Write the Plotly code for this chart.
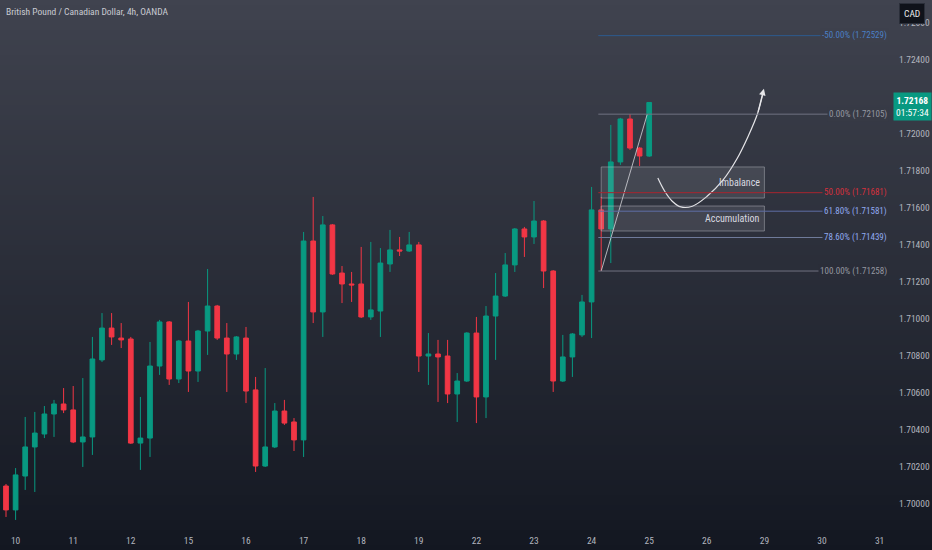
import plotly.graph_objects as go

# =========================================================================================================================
# Data (GBP/CAD 4h candles)
opens = [1.70097, 1.69968, 1.70151, 1.70308, 1.70378, 1.70486, 1.70540, 1.70508, 1.70335, 1.70362,
         1.70778, 1.70950, 1.70896, 1.70891, 1.70329, 1.70356, 1.70745, 1.70983, 1.70675, 1.70880,
         1.70718, 1.70934, 1.71069, 1.70896, 1.70810, 1.70896, 1.70616, 1.70205, 1.70308, 1.70502,
         1.70443, 1.70346, 1.71420, 1.71037, 1.71507, 1.71247, 1.71188, 1.71188, 1.71010, 1.71042,
         1.71296, 1.71372, 1.71366, 1.71399, 1.70799, 1.70810, 1.70799, 1.70594, 1.70664, 1.70923,
         1.70578, 1.71015, 1.71123, 1.71291, 1.71485, 1.71442, 1.71528, 1.71258, 1.70664, 1.70794,
         1.70913, 1.71091, 1.71588, 1.71485, 1.71847, 1.72079, 1.71922, 1.71879]
highs = [1.70108, 1.70194, 1.70470, 1.70497, 1.70529, 1.70562, 1.70626, 1.70637, 1.70680, 1.70902,
         1.71031, 1.71031, 1.70977, 1.70902, 1.70578, 1.70875, 1.70994, 1.70988, 1.70886, 1.71091,
         1.70940, 1.71269, 1.71075, 1.70977, 1.70907, 1.70956, 1.70686, 1.70734, 1.70545, 1.70562,
         1.70464, 1.71469, 1.71658, 1.71555, 1.71512, 1.71285, 1.71253, 1.71388, 1.71415, 1.71382,
         1.71480, 1.71442, 1.71469, 1.71415, 1.70923, 1.70886, 1.70886, 1.70707, 1.70928, 1.71010,
         1.71069, 1.71247, 1.71355, 1.71490, 1.71496, 1.71636, 1.71533, 1.71263, 1.70913, 1.70923,
         1.71129, 1.71712, 1.71658, 1.72047, 1.72085, 1.72105, 1.71927, 1.72168]
lows = [1.69930, 1.69914, 1.70076, 1.70065, 1.70356, 1.70362, 1.70491, 1.70329, 1.70200, 1.70265,
        1.70767, 1.70859, 1.70842, 1.70324, 1.70184, 1.70254, 1.70697, 1.70643, 1.70653, 1.70605,
        1.70659, 1.70805, 1.70886, 1.70605, 1.70778, 1.70545, 1.70173, 1.70200, 1.70302, 1.70427,
        1.70286, 1.70254, 1.70977, 1.70902, 1.71237, 1.71085, 1.71091, 1.71004, 1.70994, 1.70902,
        1.71253, 1.71339, 1.71361, 1.70713, 1.70643, 1.70551, 1.70545, 1.70443, 1.70659, 1.70437,
        1.70464, 1.70778, 1.71118, 1.71253, 1.71334, 1.71404, 1.71166, 1.70605, 1.70659, 1.70686,
        1.70902, 1.70896, 1.71258, 1.71301, 1.71831, 1.71912, 1.71825, 1.71874]
closes = [1.69968, 1.70157, 1.70308, 1.70383, 1.70486, 1.70540, 1.70508, 1.70335, 1.70362, 1.70783,
          1.70950, 1.70902, 1.70886, 1.70329, 1.70356, 1.70745, 1.70983, 1.70675, 1.70880, 1.70718,
          1.70934, 1.71069, 1.70896, 1.70810, 1.70902, 1.70610, 1.70205, 1.70308, 1.70502, 1.70437,
          1.70346, 1.71420, 1.71037, 1.71507, 1.71242, 1.71188, 1.71183, 1.71010, 1.71048, 1.71301,
          1.71372, 1.71366, 1.71399, 1.70799, 1.70810, 1.70794, 1.70594, 1.70664, 1.70923, 1.70578,
          1.71015, 1.71123, 1.71291, 1.71485, 1.71442, 1.71528, 1.71258, 1.70664, 1.70794, 1.70918,
          1.71091, 1.71588, 1.71485, 1.71847, 1.72079, 1.71922, 1.71879, 1.72168]
bars = list(range(len(opens)))

# day labels (one per 6 bars of 4h)
day_labels = ['10', '11', '12', '15', '16', '17', '18', '19', '22', '23', '24', '25', '26', '29', '30', '31']
day_bars = [1 + 6 * k for k in range(len(day_labels))]

price_ticks = [1.70000, 1.70200, 1.70400, 1.70600, 1.70800, 1.71000, 1.71200, 1.71400,
               1.71600, 1.71800, 1.72000, 1.72200, 1.72400, 1.72600]
last_price = 1.72168
countdown = '01:57:34'

# fibonacci retracement
fib_pct = ['-50.00%', '0.00%', '50.00%', '61.80%', '78.60%', '100.00%']
fib_price = [1.72529, 1.72105, 1.71681, 1.71581, 1.71439, 1.71258]
fib_line_col = ['#2d5a8e', '#707380', '#a8252f', '#5f6ea6', '#6f7a9a', '#707380']
fib_text_col = ['#4a7fc4', '#9598a1', '#d6303d', '#90aaf0', '#90aaf0', '#9598a1']
fib_start = 61.7
fib_trend_x = [62, 66.8]
fib_trend_y = [1.71258, 1.72105]

# zones
zone_names = ['Imbalance', 'Accumulation']
zone_top = [1.71820, 1.71609]
zone_bot = [1.71652, 1.71474]
zone_x = [62, 79]

# hand-drawn projection arrow
arrow_x = [67.9, 68.6, 69.4, 70.3, 71.5, 73.0, 74.7, 76.1, 77.3, 78.3, 78.9]
arrow_y = [1.71760, 1.71690, 1.71635, 1.71604, 1.71608, 1.71660, 1.71750, 1.71860, 1.71985, 1.72110, 1.72230]

# =========================================================================================================================
# Style
G = '#089981'
R = '#f23645'
W, H = 932, 550
ML, MR, MT, MB = 0, 44, 0, 22
PW, PH = W - ML - MR, H - MT - MB
x_rng = [-0.625, 91.875]
y_rng = [1.698704, 1.727214]
TOP = (64, 67, 79)
BOT = (19, 23, 33)
FONT = 'Liberation Sans Narrow, Roboto Condensed, DejaVu Sans Condensed, Roboto, sans-serif'


def bg_at(py):
    t = min(max(py / H, 0), 1)
    c = [round(a + (b - a) * t) for a, b in zip(TOP, BOT)]
    return 'rgb({},{},{})'.format(*c)


def price_px(p):
    return MT + (y_rng[1] - p) / (y_rng[1] - y_rng[0]) * PH


fig = go.Figure()

fig.add_trace(go.Candlestick(
    x=bars, open=opens, high=highs, low=lows, close=closes,
    increasing=dict(line=dict(color=G, width=1), fillcolor=G),
    decreasing=dict(line=dict(color=R, width=1), fillcolor=R),
    whiskerwidth=0, hoverinfo='skip', showlegend=False))

# fib trend line
fig.add_trace(go.Scatter(x=fib_trend_x, y=fib_trend_y, mode='lines',
                         line=dict(color='rgba(225,225,230,0.75)', width=1),
                         hoverinfo='skip', showlegend=False))

# projection arrow
fig.add_trace(go.Scatter(x=arrow_x, y=arrow_y, mode='lines',
                         line=dict(color='#e6e6e9', width=1.2, shape='spline'),
                         hoverinfo='skip', showlegend=False))

shapes = []
# gradient background
n = 110
step = H / n
for i in range(n):
    py0 = i * step
    py1 = (i + 1) * step + 0.6
    shapes.append(dict(type='rect', xref='paper', yref='paper', layer='below',
                       x0=-0.01, x1=(W + 5) / PW,
                       y0=(PH + MT - py1) / PH, y1=(PH + MT - py0) / PH,
                       fillcolor=bg_at((py0 + py1) / 2), line=dict(width=0)))

# zones
for top, bot in zip(zone_top, zone_bot):
    shapes.append(dict(type='rect', xref='x', yref='y', x0=zone_x[0], x1=zone_x[1], y0=bot, y1=top,
                       fillcolor='rgba(200,202,212,0.13)', line=dict(color='rgba(190,192,200,0.45)', width=1)))

# fib lines
for p, c in zip(fib_price, fib_line_col):
    shapes.append(dict(type='line', xref='x', yref='y', x0=fib_start, x1=x_rng[1], y0=p, y1=p,
                       line=dict(color=c, width=1)))

annotations = []
for pct, p, c in zip(fib_pct, fib_price, fib_text_col):
    annotations.append(dict(xref='paper', yref='y', x=(PW + 1) / PW, y=p, xanchor='right', yanchor='middle',
                            text='{} ({:.5f})'.format(pct, p), showarrow=False,
                            bgcolor=bg_at(price_px(p)), borderpad=1,
                            font=dict(family=FONT, size=9, color=c)))

for name, top, bot in zip(zone_names, zone_top, zone_bot):
    annotations.append(dict(xref='x', yref='y', x=zone_x[1] - 0.2, y=(top + bot) / 2, xanchor='right',
                            yanchor='middle', text=name, showarrow=False,
                            font=dict(family=FONT, size=10, color='#d8dae0')))

# arrow head
annotations.append(dict(xref='x', yref='y', axref='x', ayref='y', x=arrow_x[-1] + 0.05, y=arrow_y[-1] + 0.00012,
                        ax=arrow_x[-2], ay=arrow_y[-2], text='', showarrow=True, arrowhead=2,
                        arrowsize=1.1, arrowwidth=1.2, arrowcolor='#e6e6e9'))

# title
annotations.append(dict(xref='paper', yref='paper', x=4 / PW, y=(PH - 12) / PH, xanchor='left', yanchor='middle',
                        text='British Pound / Canadian Dollar, 4h, OANDA', showarrow=False,
                        font=dict(family=FONT, size=9.5, color='#c9cbd2')))

# last price tag
annotations.append(dict(xref='paper', yref='y', x=(PW + 5) / PW, y=last_price, xanchor='left', yanchor='middle',
                        yshift=-4, text='<b>{:.5f}</b><br>{}'.format(last_price, countdown), showarrow=False,
                        bgcolor=G, borderpad=2, align='center',
                        font=dict(family=FONT, size=9.5, color='#ffffff')))

# currency box
annotations.append(dict(xref='paper', yref='paper', x=(PW + 24) / PW, y=(PH - 13) / PH, xanchor='center',
                        yanchor='middle', text='CAD', showarrow=False, bgcolor='#0f121a',
                        bordercolor='#2a2e39', borderwidth=1, borderpad=4,
                        font=dict(family=FONT, size=9.5, color='#e8e9ec')))

fig.update_layout(
    width=W, height=H,
    margin=dict(l=ML, r=MR, t=MT, b=MB),
    paper_bgcolor='rgb(19,23,33)',
    plot_bgcolor='rgba(0,0,0,0)',
    shapes=shapes,
    annotations=annotations,
    showlegend=False,
    xaxis=dict(range=x_rng, tickmode='array', tickvals=day_bars, ticktext=day_labels,
               showgrid=False, zeroline=False, showline=False, rangeslider=dict(visible=False),
               tickfont=dict(family=FONT, size=9.5, color='#b2b5be'), ticks='', ticklabelstandoff=5),
    yaxis=dict(range=y_rng, side='right', tickmode='array', tickvals=price_ticks,
               tickformat='.5f', showgrid=False, zeroline=False, showline=False,
               tickfont=dict(family=FONT, size=9.5, color='#b2b5be'), ticks='', ticklabelstandoff=10),
)

fig.write_html("out.html", config={'displayModeBar': False},
               post_script="document.body.style.margin='0';document.body.style.overflow='hidden';")
